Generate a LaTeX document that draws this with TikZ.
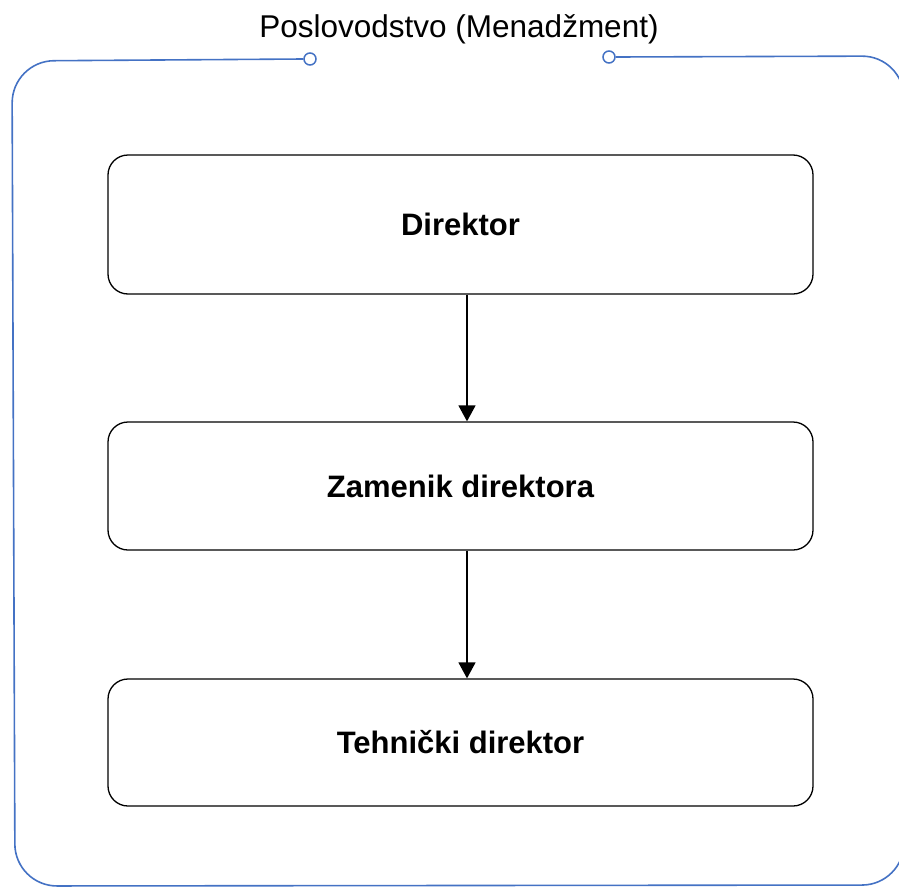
\documentclass[tikz,border=0pt]{standalone}
\usepackage{fontspec}
\setmainfont{Liberation Sans}
\usetikzlibrary{arrows.meta}
\definecolor{frameblue}{HTML}{4472C4}
\begin{document}
\begin{tikzpicture}[x=1pt,y=-1pt,
  rolebox/.style={draw=black,line width=1.3pt,rounded corners=20pt,minimum width=705pt,inner sep=0pt,font=\fontsize{31}{36}\selectfont\bfseries},
  port/.style={circle,draw=frameblue,fill=white,line width=1.5pt,minimum size=12pt,inner sep=0pt},
  frameline/.style={draw=frameblue,line width=1.6pt},
  flow/.style={draw=black,line width=1.5pt,-{Triangle[width=17pt,length=16pt]}}]
\useasboundingbox (0,0) rectangle (899,886);
\begin{scope}
\clip (0,0) rectangle (899,886);
\coordinate (tl) at (12,61);
\coordinate (bl) at (15,886);
\coordinate (br) at (904,885);
\coordinate (tr) at (904,56);
\node[port] (cL) at (310,59) {};
\node[port] (cR) at (609,57) {};
\draw[frameline,rounded corners=42pt] (cL.west) -- (tl) -- (bl) -- (br) -- (tr) -- (cR.east);
\end{scope}
\node[anchor=base,font=\fontsize{31.5}{36}\selectfont] (title) at (459,37) {Poslovodstvo (Menadžment)};
\node[rolebox,minimum height=139pt] (d) at (460.5,224.5) {Direktor};
\node[rolebox,minimum height=128pt] (z) at (460.5,486) {Zamenik direktora};
\node[rolebox,minimum height=127pt] (t) at (460.5,742.5) {Tehnički direktor};
\draw[flow] ([xshift=6.5pt]d.south) -- ([xshift=6.5pt]z.north);
\draw[flow] ([xshift=6.5pt]z.south) -- ([xshift=6.5pt]t.north);
\end{tikzpicture}
\end{document}
